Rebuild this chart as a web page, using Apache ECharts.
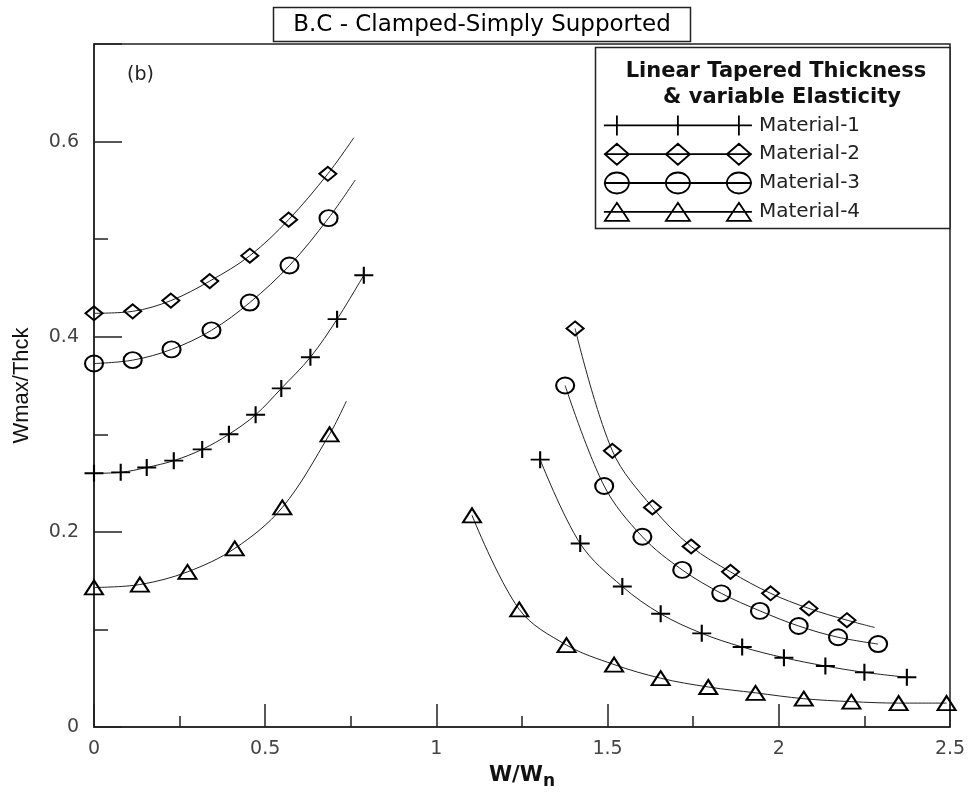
<!DOCTYPE html>
<html>
<head>
<meta charset="utf-8">
<title>B.C - Clamped-Simply Supported</title>
<script src="https://cdn.jsdelivr.net/npm/echarts@6/dist/echarts.min.js"></script>
<style>
  html, body { margin: 0; padding: 0; background: #fff; }
  #chart { width: 969px; height: 795px; }
</style>
</head>
<body>
<div id="chart"></div>
<script>
// values (x = W/Wn, y = Wmax/Thck)
// left branch = below first resonance, right branch = above it
var m1LeftX  = [0, 0.078, 0.154, 0.233, 0.316, 0.394, 0.472, 0.547, 0.632, 0.710, 0.788];
var m1LeftY  = [0.260, 0.261, 0.266, 0.273, 0.2845, 0.300, 0.320, 0.347, 0.379, 0.418, 0.463];
var m1RightX = [1.303, 1.420, 1.543, 1.655, 1.775, 1.893, 2.015, 2.136, 2.250, 2.374];
var m1RightY = [0.274, 0.188, 0.144, 0.116, 0.096, 0.082, 0.071, 0.0625, 0.056, 0.051];

var m2LeftX  = [0, 0.113, 0.2245, 0.338, 0.455, 0.5685, 0.683];
var m2LeftY  = [0.424, 0.426, 0.437, 0.457, 0.483, 0.520, 0.567];
var m2LeftEnd = [0.759, 0.604];
var m2RightX = [1.405, 1.514, 1.631, 1.744, 1.859, 1.976, 2.088, 2.199];
var m2RightY = [0.4085, 0.283, 0.225, 0.185, 0.159, 0.137, 0.1215, 0.1095];
var m2RightEnd = [2.28, 0.102];

var m3LeftX  = [0, 0.113, 0.2265, 0.343, 0.455, 0.571, 0.685];
var m3LeftY  = [0.3725, 0.376, 0.387, 0.4065, 0.435, 0.473, 0.5215];
var m3LeftEnd = [0.763, 0.5606];
var m3RightX = [1.376, 1.490, 1.6015, 1.718, 1.832, 1.945, 2.058, 2.173, 2.290];
var m3RightY = [0.350, 0.247, 0.195, 0.161, 0.137, 0.119, 0.1035, 0.092, 0.085];

var m4LeftX  = [0, 0.134, 0.273, 0.411, 0.550, 0.688];
var m4LeftY  = [0.143, 0.146, 0.159, 0.183, 0.225, 0.300];
var m4LeftEnd = [0.737, 0.334];
var m4RightX = [1.104, 1.242, 1.380, 1.519, 1.655, 1.794, 1.932, 2.073, 2.212, 2.350, 2.490];
var m4RightY = [0.217, 0.1205, 0.084, 0.064, 0.050, 0.041, 0.035, 0.029, 0.026, 0.0245, 0.0245];

var names = ['Material-1', 'Material-2', 'Material-3', 'Material-4'];
var yTicks = [0, 0.2, 0.4, 0.6];

var PLUS = 'path://M0,-1 L0,1 M-1,0 L1,0';
var FONT = 'DejaVu Sans';

// marker points of one branch, then the bit of curve past the last marker
function branch(xs, ys, tail) {
    var out = [];
    for (var i = 0; i < xs.length; i++) out.push([xs[i], ys[i]]);
    if (tail) out.push({ value: tail, symbol: 'none' });
    return out;
}

function curve(leftX, leftY, leftEnd, rightX, rightY, rightEnd) {
    return branch(leftX, leftY, leftEnd).concat([['-', '-']], branch(rightX, rightY, rightEnd));
}

// legend sample: line with three markers on it, 148 x 22
var legendMarkX = [13, 74, 135];
function legendIcon(kind) {
    var p = 'path://M0 0 M148 22 M0 11 L148 11';
    legendMarkX.forEach(function (cx) {
        if (kind == 'plus') p += ' M' + cx + ' 1 L' + cx + ' 21';
        if (kind == 'diamond') p += ' M' + (cx - 12) + ' 11 L' + cx + ' 0.5 L' + (cx + 12) + ' 11 L' + cx + ' 21.5 Z';
        if (kind == 'circle') p += ' M' + (cx - 12) + ' 11 A12 10.5 0 1 0 ' + (cx + 12) + ' 11 A12 10.5 0 1 0 ' + (cx - 12) + ' 11 Z';
        if (kind == 'triangle') p += ' M' + cx + ' 2 L' + (cx + 12) + ' 20 L' + (cx - 12) + ' 20 Z';
    });
    return p;
}

function makeSeries(name, data, symbol, size) {
    return {
        name: name,
        type: 'line',
        data: data,
        smooth: 0.35,
        symbol: symbol,
        symbolSize: size,
        showSymbol: true,
        connectNulls: false,
        lineStyle: { color: '#222', width: 1 },
        itemStyle: { color: 'rgba(0,0,0,0)', borderColor: '#000', borderWidth: 2 },
        emphasis: { disabled: true },
        z: 3
    };
}

function initChart() {
    var myChart = echarts.init(document.getElementById('chart'), null, { renderer: 'canvas' });
    var axisColor = '#222';
    var option = {
        animation: false,
        backgroundColor: '#fff',
        grid: {
            left: 94, right: 19, top: 44, bottom: 64,
            show: true, borderColor: axisColor, borderWidth: 1.5, backgroundColor: 'transparent'
        },
        legend: {
            orient: 'vertical',
            left: 603,
            top: 113.5,
            padding: 0,
            itemWidth: 148,
            itemHeight: 22,
            itemGap: 5,
            selectedMode: false,
            itemStyle: { color: 'rgba(0,0,0,0)', borderColor: '#000', borderWidth: 1.8 },
            textStyle: { fontFamily: FONT, fontSize: 20, color: '#222', padding: [0, 0, 0, 2] },
            data: [
                { name: names[0], icon: legendIcon('plus') },
                { name: names[1], icon: legendIcon('diamond') },
                { name: names[2], icon: legendIcon('circle') },
                { name: names[3], icon: legendIcon('triangle') }
            ]
        },
        xAxis: {
            type: 'value',
            min: 0, max: 2.5, interval: 0.5,
            axisLine: { lineStyle: { color: axisColor, width: 1.5 } },
            axisTick: { inside: true, length: 23, lineStyle: { color: axisColor, width: 1.5 } },
            minorTick: { show: true, splitNumber: 2, length: 11, lineStyle: { color: axisColor, width: 1.5 } },
            splitLine: { show: false },
            axisLabel: { margin: 13, fontFamily: FONT, fontSize: 19, color: '#444' },
            name: '{a|W/W}{b|n}',
            nameLocation: 'middle',
            nameGap: 34,
            nameTextStyle: {
                rich: {
                    a: { fontFamily: FONT, fontSize: 21, fontWeight: 'bold', color: '#111' },
                    b: { fontFamily: FONT, fontSize: 17, fontWeight: 'bold', color: '#111', padding: [12, 0, 0, 0] }
                }
            }
        },
        yAxis: [
            {
                type: 'value',
                position: 'left',
                min: 0, max: 0.7, interval: 0.1,
                axisLine: { lineStyle: { color: axisColor, width: 1.5 } },
                axisTick: { inside: true, length: 14, lineStyle: { color: axisColor, width: 1.5 } },
                splitLine: { show: false },
                axisLabel: {
                    margin: 15, fontFamily: FONT, fontSize: 19, color: '#444',
                    formatter: function (v) {
                        for (var i = 0; i < yTicks.length; i++) {
                            if (Math.abs(v - yTicks[i]) < 1e-6) return String(yTicks[i]);
                        }
                        return '';
                    }
                },
                name: 'Wmax/Thck',
                nameLocation: 'middle',
                nameGap: 61,
                nameTextStyle: { fontFamily: 'Liberation Sans', fontSize: 22, color: '#111' }
            },
            {
                // long ticks on the labelled values
                type: 'value',
                position: 'left',
                offset: 0,
                min: 0, max: 0.7, interval: 0.2,
                axisLine: { show: false },
                axisTick: { inside: true, length: 28, lineStyle: { color: axisColor, width: 1.5 } },
                axisLabel: { show: false },
                splitLine: { show: false }
            }
        ],
        graphic: [
            { type: 'rect', shape: { x: 273.5, y: 7.5, width: 417, height: 34 },
              style: { fill: '#fff', stroke: axisColor, lineWidth: 1.5 } },
            { type: 'text', x: 482, y: 25,
              style: { text: 'B.C - Clamped-Simply Supported', font: '23px "DejaVu Sans"', fill: '#000',
                       textAlign: 'center', textVerticalAlign: 'middle' } },
            { type: 'rect', shape: { x: 595.5, y: 47.5, width: 354.5, height: 181 },
              style: { fill: '#fff', stroke: axisColor, lineWidth: 1.5 }, z: 1 },
            { type: 'text', x: 776, y: 72, z: 2,
              style: { text: 'Linear Tapered Thickness', font: 'bold 21px "DejaVu Sans"', fill: '#111',
                       textAlign: 'center', textVerticalAlign: 'middle' } },
            { type: 'text', x: 782, y: 98, z: 2,
              style: { text: '& variable Elasticity', font: 'bold 21px "DejaVu Sans"', fill: '#111',
                       textAlign: 'center', textVerticalAlign: 'middle' } },
            { type: 'text', x: 127, y: 75,
              style: { text: '(b)', font: '19px "DejaVu Sans"', fill: '#222',
                       textAlign: 'left', textVerticalAlign: 'middle' } }
        ],
        series: [
            makeSeries(names[0], curve(m1LeftX, m1LeftY, null, m1RightX, m1RightY, null), PLUS, [19, 17]),
            makeSeries(names[1], curve(m2LeftX, m2LeftY, m2LeftEnd, m2RightX, m2RightY, m2RightEnd), 'diamond', [17, 14]),
            makeSeries(names[2], curve(m3LeftX, m3LeftY, m3LeftEnd, m3RightX, m3RightY, null), 'circle', [18, 16]),
            makeSeries(names[3], curve(m4LeftX, m4LeftY, m4LeftEnd, m4RightX, m4RightY, null), 'triangle', [18, 14])
        ]
    };
    myChart.setOption(option);
}

initChart();
</script>
</body>
</html>
